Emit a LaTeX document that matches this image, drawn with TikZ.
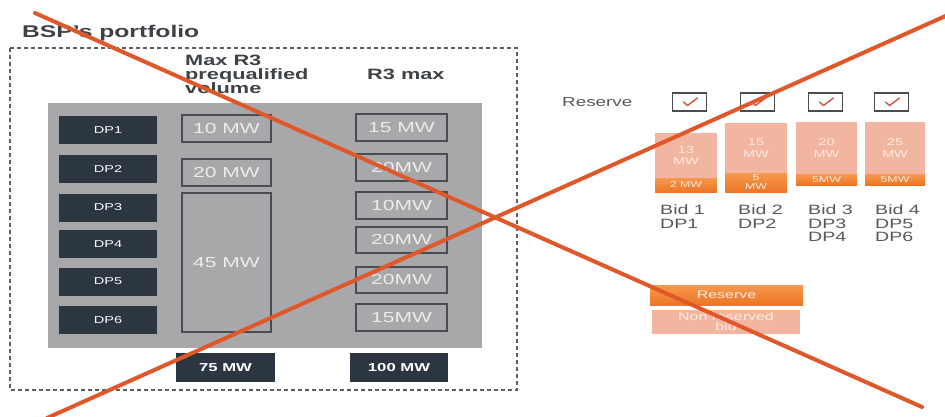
\documentclass[tikz,border=0pt]{standalone}
\usepackage{fontspec}
\setmainfont{Liberation Sans}[FakeStretch=1.45]
\usetikzlibrary{calc}

\definecolor{dpdark}{RGB}{44,54,64}
\definecolor{panelgray}{RGB}{168,168,170}
\definecolor{boxedge}{RGB}{72,77,82}
\definecolor{boxtext}{RGB}{236,236,236}
\definecolor{headtext}{RGB}{62,66,72}
\definecolor{labeltext}{RGB}{88,88,90}
\definecolor{salmon}{RGB}{242,181,160}
\definecolor{salmontext}{RGB}{255,236,228}
\definecolor{orangetop}{RGB}{247,152,78}
\definecolor{orangebot}{RGB}{236,118,36}
\definecolor{checkred}{RGB}{206,78,62}
\definecolor{crossred}{RGB}{224,88,42}
\definecolor{framegray}{RGB}{95,95,98}

\tikzset{
  darkbox/.style={fill=dpdark, text=white, inner sep=0pt},
  dplabel/.style={darkbox, minimum width=98pt, minimum height=28pt,
    font=\fontsize{10}{12}\selectfont},
  totalbox/.style={darkbox, minimum height=29pt,
    font=\bfseries\fontsize{11.5}{13}\selectfont},
  mwbox/.style={draw=boxedge, line width=2pt, fill=panelgray, text=boxtext,
    inner sep=0pt, font=\fontsize{14.5}{16}\selectfont},
  heading/.style={text=headtext, inner sep=0pt, font=\bfseries\fontsize{15}{14}\selectfont},
  checkbox/.style={draw=boxedge, line width=1.1pt, fill=white,
    minimum width=34pt, minimum height=18pt, inner sep=0pt},
  tick/.style={draw=checkred, line width=1.3pt, line cap=round, line join=round},
  bidtop/.style={fill=salmon, text=salmontext, inner sep=0pt, align=center,
    font=\fontsize{10}{11.5}\selectfont},
  bidbar/.style={top color=orangetop, bottom color=orangebot, text=salmontext,
    inner sep=0pt, align=center, font=\fontsize{8.5}{9}\selectfont},
  bidlabel/.style={text=labeltext, inner sep=0pt, align=left,
    font=\fontsize{13.5}{13.5}\selectfont},
  crossline/.style={draw=crossred, line width=4pt, line cap=round}
}

\begin{document}
\begin{tikzpicture}[x=1pt, y=-1pt]
\useasboundingbox[fill=white] (0,0) rectangle (945,416);

% ---- portfolio frame ----
\node[text=headtext, inner sep=0pt, anchor=base west,
  font=\bfseries\fontsize{17}{18}\selectfont] (title) at (22,37) {BSP's portfolio};
\draw[framegray, line width=1.1pt, dash pattern=on 4pt off 3pt]
  (10,48) rectangle (517,390);
\fill[panelgray] (48,103) rectangle (482,348);

% column headings
\node[heading, anchor=base west, align=left,
  font=\bfseries\fontsize{15}{14}\selectfont] (hmax1) at (185,65) {Max R3};
\node[heading, anchor=base west] (hmax2) at (185,79) {prequalified};
\node[heading, anchor=base west] (hmax3) at (185,93) {volume};
\node[heading, anchor=base west] (hr3) at (367,79) {R3 max};

% delivery points
\node[dplabel] (dp1) at (108,130)   {DP1};
\node[dplabel] (dp2) at (108,169)   {DP2};
\node[dplabel] (dp3) at (108,207.5) {DP3};
\node[dplabel] (dp4) at (108,244)   {DP4};
\node[dplabel] (dp5) at (108,281.5) {DP5};
\node[dplabel] (dp6) at (108,320)   {DP6};

% prequalified volumes
\node[mwbox, minimum width=89pt, minimum height=27pt]  (pq1) at (226.5,128.5) {10 MW};
\node[mwbox, minimum width=89pt, minimum height=27pt]  (pq2) at (226.5,172.5) {20 MW};
\node[mwbox, minimum width=89pt, minimum height=139pt] (pq3) at (226.5,262.5) {45 MW};

% R3 maxima
\node[mwbox, minimum width=91pt, minimum height=27pt] (rm1) at (401.5,127.5) {15 MW};
\node[mwbox, minimum width=91pt, minimum height=27pt] (rm2) at (401.5,167.5) {20MW};
\node[mwbox, minimum width=91pt, minimum height=27pt] (rm3) at (401.5,205.5) {10MW};
\node[mwbox, minimum width=91pt, minimum height=26pt] (rm4) at (401.5,240)   {20MW};
\node[mwbox, minimum width=91pt, minimum height=26pt] (rm5) at (401.5,280)   {20MW};
\node[mwbox, minimum width=91pt, minimum height=27pt] (rm6) at (401.5,317.5) {15MW};

% totals
\node[totalbox, minimum width=99pt] (tot1) at (225.5,367.5) {75 MW};
\node[totalbox, minimum width=98pt] (tot2) at (399,367.5)   {100 MW};

% ---- bids ----
\node[text=labeltext, inner sep=0pt, anchor=base west,
  font=\fontsize{13}{14}\selectfont] (reslabel) at (562,106) {Reserve};

\node[checkbox] (cb1) at (689.5,102) {};
\node[checkbox] (cb2) at (757.5,102) {};
\node[checkbox] (cb3) at (825.5,102) {};
\node[checkbox] (cb4) at (891.5,102) {};
\foreach \c in {cb1,cb2,cb3,cb4}
  \draw[tick] ($(\c.center)+(-6,0)$) -- ++(4,3.5) -- ++(10,-7.5);

\node[bidtop, minimum width=62pt, minimum height=45pt] (b1top) at (686,155.5) {13\\MW};
\node[bidbar, minimum width=62pt, minimum height=14pt] (b1bar) at (686,185)   {2 MW};
\node[bidtop, minimum width=62pt, minimum height=50pt] (b2top) at (756,148)   {15\\MW};
\node[bidbar, minimum width=62pt, minimum height=19pt] (b2bar) at (756,182.5) {5\\MW};
\node[bidtop, minimum width=61pt, minimum height=52pt] (b3top) at (826.5,148) {20\\MW};
\node[bidbar, minimum width=61pt, minimum height=11pt] (b3bar) at (826.5,179.5) {5MW};
\node[bidtop, minimum width=60pt, minimum height=52pt] (b4top) at (895,148)   {25\\MW};
\node[bidbar, minimum width=60pt, minimum height=11pt] (b4bar) at (895,179.5) {5MW};

\node[bidlabel, anchor=north west] (bl1) at (660,205) {Bid 1\\DP1};
\node[bidlabel, anchor=north west] (bl2) at (738,205) {Bid 2\\DP2};
\node[bidlabel, anchor=north west] (bl3) at (808,205) {Bid 3\\DP3\\DP4};
\node[bidlabel, anchor=north west] (bl4) at (875,205) {Bid 4\\DP5\\DP6};

% ---- legend ----
\node[bidbar, minimum width=153pt, minimum height=20pt,
  font=\fontsize{11}{11}\selectfont] (legres) at (726.5,295) {Reserve};
\node[bidtop, minimum width=148pt, minimum height=24pt,
  font=\fontsize{11}{10}\selectfont] (legnon) at (726,322) {Non reserved\\bid};

% ---- cross-out ----
\coordinate (xa) at (35,13);
\coordinate (xb) at (922,407);
\coordinate (xc) at (47,418);
\coordinate (xd) at (950,14);
\draw[crossline] (xa) -- (xb);
\draw[crossline] (xc) -- (xd);
\end{tikzpicture}
\end{document}
